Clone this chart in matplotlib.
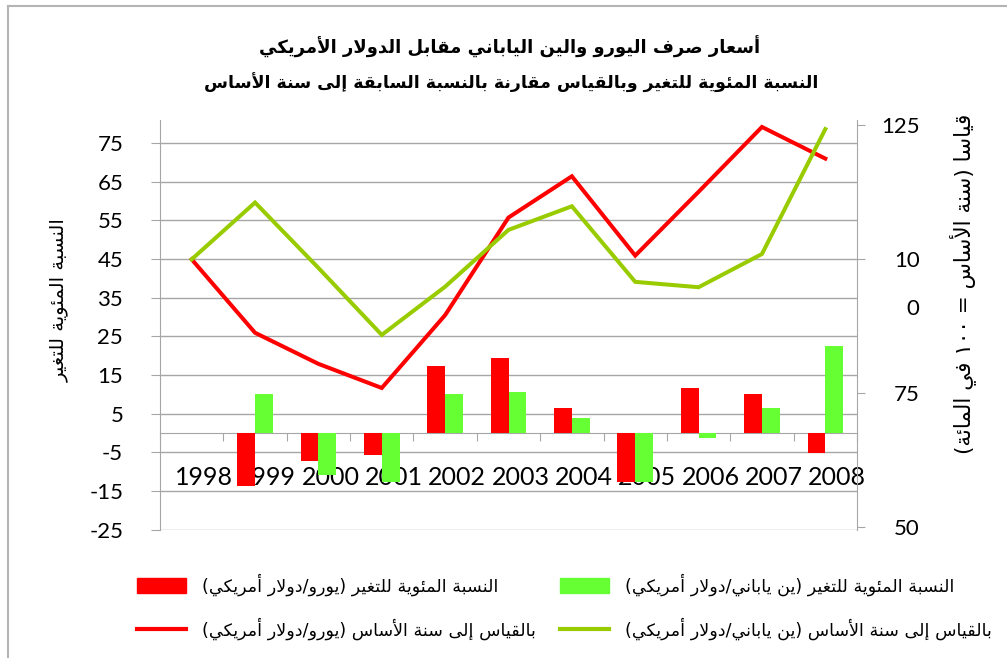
import re
import numpy as np
import matplotlib
matplotlib.use('Agg')
import matplotlib.pyplot as plt
from matplotlib.lines import Line2D
from matplotlib.patches import Patch
from matplotlib.transforms import ScaledTranslation, blended_transform_factory

plt.rcParams['font.family'] = ['Lato', 'DejaVu Sans']
plt.rcParams['axes.unicode_minus'] = False

# data
years = ['1998', '1999', '2000', '2001', '2002', '2003', '2004', '2005', '2006', '2007', '2008']
eur_pct = [0, -13.8, -7.2, -5.7, 17.4, 19.5, 6.5, -12.8, 11.6, 10.2, -5.1]
jpy_pct = [0, 10.2, -10.8, -12.8, 10.2, 10.7, 3.9, -12.8, -1.4, 6.5, 22.5]
eur_idx = [100, 86.3, 80.5, 76.0, 89.6, 107.8, 115.5, 100.7, 112.6, 124.7, 118.8]
jpy_idx = [100, 110.6, 98.4, 85.9, 94.9, 105.5, 109.9, 95.8, 94.8, 101.0, 124.3]

left_ticks = list(range(-25, 76, 10))
right_ticks = [50, 75, 100, 125]
right_labels = ['50', '75', '10', '125']

title1 = 'أسعار صرف اليورو والين الياباني مقابل الدولار الأمريكي'
title2 = 'النسبة المئوية للتغير وبالقياس مقارنة بالنسبة السابقة إلى سنة الأساس'
ylab_left = 'النسبة المئوية للتغير'
ylab_right = 'قياسا (سنة الأساس = ١٠٠ في المائة)'
leg_eur_bar = 'النسبة المئوية للتغير (يورو/دولار أمريكي)'
leg_jpy_bar = 'النسبة المئوية للتغير (ين ياباني/دولار أمريكي)'
leg_eur_line = 'بالقياس إلى سنة الأساس (يورو/دولار أمريكي)'
leg_jpy_line = 'بالقياس إلى سنة الأساس (ين ياباني/دولار أمريكي)'


# matplotlib has no arabic shaping, so do a small one here
TWO = {'آ': 0xFE81, 'أ': 0xFE83, 'ؤ': 0xFE85, 'إ': 0xFE87, 'ا': 0xFE8D, 'ة': 0xFE93,
       'د': 0xFEA9, 'ذ': 0xFEAB, 'ر': 0xFEAD, 'ز': 0xFEAF, 'و': 0xFEED, 'ى': 0xFEEF}
FOUR = {'ئ': 0xFE89, 'ب': 0xFE8F, 'ت': 0xFE95, 'ث': 0xFE99, 'ج': 0xFE9D, 'ح': 0xFEA1,
        'خ': 0xFEA5, 'س': 0xFEB1, 'ش': 0xFEB5, 'ص': 0xFEB9, 'ض': 0xFEBD, 'ط': 0xFEC1,
        'ظ': 0xFEC5, 'ع': 0xFEC9, 'غ': 0xFECD, 'ف': 0xFED1, 'ق': 0xFED5, 'ك': 0xFED9,
        'ل': 0xFEDD, 'م': 0xFEE1, 'ن': 0xFEE5, 'ه': 0xFEE9, 'ي': 0xFEF1}
LAMALEF = {'آ': 0xFEF5, 'أ': 0xFEF7, 'إ': 0xFEF9, 'ا': 0xFEFB}
MIRROR = {'(': ')', ')': '('}


def ar(s):
    out = []
    i = 0
    n = len(s)
    while i < n:
        c = s[i]
        if c not in TWO and c not in FOUR:
            out.append(c)
            i += 1
            continue
        prev_join = i > 0 and s[i - 1] in FOUR
        if c == 'ل' and i + 1 < n and s[i + 1] in LAMALEF:
            out.append(chr(LAMALEF[s[i + 1]] + (1 if prev_join else 0)))
            i += 2
            continue
        next_join = c in FOUR and i + 1 < n and (s[i + 1] in TWO or s[i + 1] in FOUR)
        if c in FOUR:
            off = 3 if (prev_join and next_join) else 1 if prev_join else 2 if next_join else 0
            out.append(chr(FOUR[c] + off))
        else:
            out.append(chr(TWO[c] + (1 if prev_join else 0)))
        i += 1
    tokens = re.findall(r'[0-9\u0660-\u0669]+|.', ''.join(out))
    return ''.join(MIRROR.get(t, t) for t in reversed(tokens))


W, H = 1007, 658
fig = plt.figure(figsize=(W / 100, H / 100), dpi=100)
ax = fig.add_axes([160 / W, 1 - 530 / H, 697 / W, 410 / H])
ax2 = ax.twinx()

x = np.arange(len(years))
grey = '#a6a6a6'
ax.bar(x - 0.14, eur_pct, width=0.28, color='#ff0000', zorder=3)
ax.bar(x + 0.14, jpy_pct, width=0.28, color='#66ff33', zorder=3)
ax2.plot(x, eur_idx, color='#ff0000', lw=2.9, solid_joinstyle='miter')
ax2.plot(x, jpy_idx, color='#99cc00', lw=2.9, solid_joinstyle='miter')

ax.set_xlim(-0.5, len(years) - 0.5)
ax.set_ylim(-25.1, 81)
ax2.set_ylim(49.5, 126)

# spines first: moving a spine resets the ticks
ax.spines['bottom'].set_position(('data', 0))
ax.spines['bottom'].set_color(grey)
ax.spines['left'].set_color(grey)
for s in ['top', 'right']:
    ax.spines[s].set_visible(False)
for s in ['top', 'left', 'bottom']:
    ax2.spines[s].set_visible(False)
ax2.spines['right'].set_color(grey)

ax.set_yticks(left_ticks)
ax.yaxis.grid(True, color=grey, lw=1)
ax.tick_params(axis='y', length=6.5, color=grey, pad=20, labelsize=16)

ax.set_xticks(np.arange(len(years) + 1) - 0.5)
ax.set_xticklabels([])
ax.set_xticks(x, years, minor=True)
ax.tick_params(axis='x', which='major', length=5.5, color=grey)
ax.tick_params(axis='x', which='minor', length=0, pad=24, labelsize=18)
for lbl in ax.get_xticklabels(minor=True):
    lbl.set_transform(lbl.get_transform() + ScaledTranslation(0.12, 0, fig.dpi_scale_trans))

ax2.set_yticks(right_ticks, right_labels)
ax2.tick_params(axis='y', length=6, color=grey, pad=39, labelsize=16)
plt.setp(ax2.get_yticklabels(), ha='right')
ax2.text(1.089, 90.7, '0', transform=blended_transform_factory(ax2.transAxes, ax2.transData),
         ha='right', va='center', fontsize=16)

# titles and axis titles
fig.text(0.5065, 1 - 47 / H, ar(title1), ha='center', va='center', fontsize=13,
         fontweight='bold', family='DejaVu Sans')
fig.text(0.5075, 1 - 83 / H, ar(title2), ha='center', va='center', fontsize=12.5,
         fontweight='bold', family='DejaVu Sans')
fig.text(59 / W, 1 - 300 / H, ar(ylab_left), rotation=90, ha='center', va='center',
         fontsize=14, family='DejaVu Sans')
fig.text(963 / W, 1 - 284 / H, ar(ylab_right), rotation=90, ha='center', va='center',
         fontsize=15.5, family='DejaVu Sans')

# legend in two columns
leg_kw = dict(loc='center left', frameon=False, handlelength=2.8,
              handleheight=0.9, handletextpad=0.9, labelspacing=1.25,
              borderpad=0, borderaxespad=0, prop={'family': 'DejaVu Sans', 'size': 12.6})
h1 = [Patch(color='#ff0000'), Line2D([], [], color='#ff0000', lw=3)]
h2 = [Patch(color='#66ff33'), Line2D([], [], color='#99cc00', lw=3)]
fig.legend(h1, [ar(leg_eur_bar), ar(leg_eur_line)], bbox_to_anchor=(137 / W, 1 - 607 / H), **leg_kw)
fig.legend(h2, [ar(leg_jpy_bar), ar(leg_jpy_line)], bbox_to_anchor=(560 / W, 1 - 607 / H), **leg_kw)

# outer frame of the chart area
fig.add_artist(Line2D([8 / W, 8 / W], [0, 1 - 6 / H], transform=fig.transFigure, color='#b4b4b4', lw=1.5))
fig.add_artist(Line2D([8 / W, 1], [1 - 6 / H, 1 - 6 / H], transform=fig.transFigure, color='#b4b4b4', lw=1.5))

fig.savefig('out.png', dpi=100)
